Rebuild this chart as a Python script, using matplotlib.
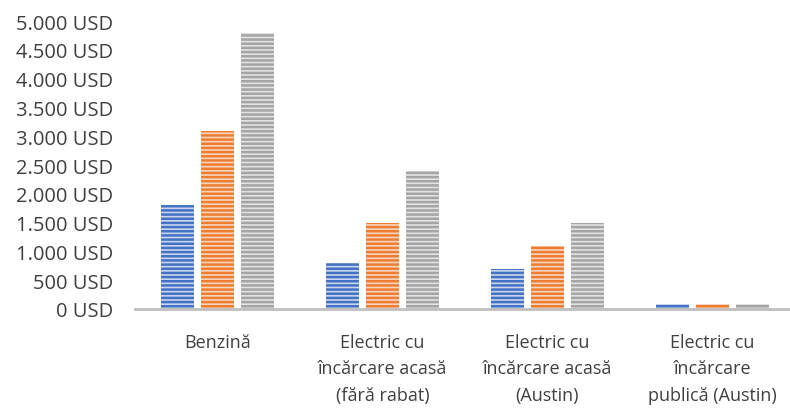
import matplotlib.pyplot as plt
import numpy as np

plt.rcParams['font.family'] = ['Open Sans', 'DejaVu Sans']
plt.rcParams['hatch.linewidth'] = 1.8

categories = ['Benzină', 'Electric cu\nîncărcare acasă\n(fără rabat)',
              'Electric cu\nîncărcare acasă\n(Austin)', 'Electric cu\nîncărcare\npublică (Austin)']
serie1 = [1800, 800, 700, 80]
serie2 = [3100, 1500, 1100, 80]
serie3 = [4800, 2400, 1500, 80]
yticks = [0, 500, 1000, 1500, 2000, 2500, 3000, 3500, 4000, 4500, 5000]

colors = ['#4472C4', '#ED7D31', '#A5A5A5']
faces = ['#C9D6EE', '#F9D5BE', '#E2E2E2']

fig = plt.figure(figsize=(7.9, 4.1), dpi=100)
ax = fig.add_axes([0.171, 0.244, 0.835, 0.702])

x = np.arange(len(categories))
w = 0.2
offs = [-0.242, 0, 0.242]
for vals, c, f, o in zip([serie1, serie2, serie3], colors, faces, offs):
    ax.bar(x + o, vals, w, facecolor=f, edgecolor=c, hatch='----', linewidth=0)

ax.set_xlim(-0.5, 3.5)
ax.set_ylim(0, 5000)
ax.set_yticks(yticks)
ax.set_yticklabels([f'{v:,} USD'.replace(',', '.') for v in yticks], fontsize=14.5, color='#404040')
ax.set_xticks(x)
ax.set_xticklabels(categories, fontsize=13, color='#404040', linespacing=1.62)
ax.tick_params(axis='x', length=0, pad=17)
ax.tick_params(axis='y', length=0, pad=16)

for s in ['top', 'right', 'left']:
    ax.spines[s].set_visible(False)
ax.spines['bottom'].set_color('#BFBFBF')
ax.spines['bottom'].set_linewidth(2)

fig.savefig('out.png', dpi=100)
